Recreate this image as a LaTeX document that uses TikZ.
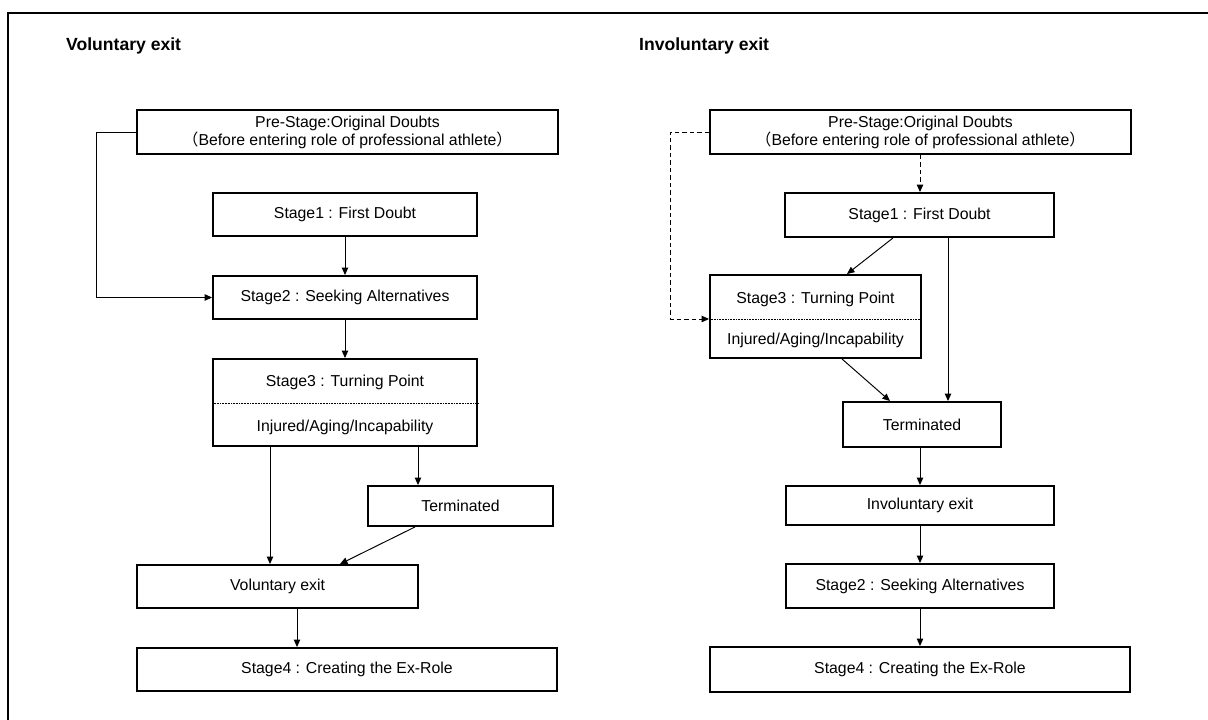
\documentclass[tikz,border=0pt]{standalone}
\usepackage{fontspec}
\setmainfont{Liberation Sans}
\newfontfamily\cjk{Noto Sans CJK JP}
\usetikzlibrary{arrows.meta}

\begin{document}
\begin{tikzpicture}[x=0.02cm,y=-0.02cm,
    font=\fontsize{9}{10.2}\selectfont,
    box/.style={draw=black,line width=1.1pt,inner sep=0pt,align=center},
    conn/.style={line width=0.55pt,-{Triangle[length=1.5mm,width=1.3mm]}},
    dconn/.style={conn,dash pattern=on 0.9mm off 0.6mm},
    divider/.style={line width=0.4pt,dash pattern=on 0.4pt off 0.5pt},
    title/.style={anchor=west,font=\fontsize{10}{12}\selectfont\bfseries}]

    \clip (0,0) rectangle (1208,720);
    \draw[line width=1.5pt] (8,13) rectangle (1240,750);

    % voluntary exit
    \node[title] (titleL) at (60,46) {Voluntary exit};
    \node[box,minimum width=8.42cm,minimum height=0.88cm] (pre1) at (347.5,132)
        {Pre-Stage:Original Doubts\\{\cjk （}Before entering role of professional athlete{\cjk ）}};
    \node[box,minimum width=5.28cm,minimum height=0.86cm] (s1L) at (345,214.5) {Stage1 : First Doubt};
    \node[box,minimum width=5.28cm,minimum height=0.86cm] (s2L) at (345,297.5) {Stage2 : Seeking Alternatives};
    \node[box,minimum width=5.28cm,minimum height=1.74cm] (s3L) at (345,402.5) {};
    \node (s3La) at (345,382) {Stage3 : Turning Point};
    \node (s3Lb) at (345,427) {Injured/Aging/Incapability};
    \draw[divider] (s3L.west |- 0,403) -- (s3L.east |- 0,403);
    \node[box,minimum width=3.7cm,minimum height=0.8cm] (termL) at (460.5,506) {Terminated};
    \node[box,minimum width=5.62cm,minimum height=0.86cm] (volL) at (277.5,586.5) {Voluntary exit};
    \node[box,minimum width=8.4cm,minimum height=0.86cm] (s4L) at (347,669.5) {Stage4 : Creating the Ex-Role};

    \draw[conn] (pre1.west) -- ++(-40,0) |- (s2L.west);
    \draw[conn] (s1L) -- (s2L);
    \draw[conn] (s2L) -- (s3L);
    \draw[conn] (s3L.south -| 270,0) -- (volL.north -| 270,0);
    \draw[conn] (s3L.south -| 418,0) -- (termL.north -| 418,0);
    \draw[conn] (termL.south -| 415,0) -- (volL.north -| 340,0);
    \draw[conn] (volL.south -| 297,0) -- (s4L.north -| 297,0);

    % involuntary exit
    \node[title] (titleR) at (633,46) {Involuntary exit};
    \node[box,minimum width=8.42cm,minimum height=0.88cm] (pre2) at (920.5,132)
        {Pre-Stage:Original Doubts\\{\cjk （}Before entering role of professional athlete{\cjk ）}};
    \node[box,minimum width=5.38cm,minimum height=0.88cm] (s1R) at (919.5,215) {Stage1 : First Doubt};
    \node[box,minimum width=4.22cm,minimum height=1.66cm] (s3R) at (815.5,316.5) {};
    \node (s3Ra) at (815.5,299) {Stage3 : Turning Point};
    \node (s3Rb) at (815.5,340) {Injured/Aging/Incapability};
    \draw[divider] (s3R.west |- 0,319) -- (s3R.east |- 0,319);
    \node[box,minimum width=3.16cm,minimum height=0.9cm] (termR) at (922,424.5) {Terminated};
    \node[box,minimum width=5.36cm,minimum height=0.78cm] (invR) at (920,505.5) {Involuntary exit};
    \node[box,minimum width=5.36cm,minimum height=0.88cm] (s2R) at (920,586) {Stage2 : Seeking Alternatives};
    \node[box,minimum width=8.4cm,minimum height=0.9cm] (s4R) at (920,669.5) {Stage4 : Creating the Ex-Role};

    \draw[dconn] (pre2.south -| 920,0) -- (s1R.north -| 920,0);
    \draw[dconn] (pre2.west) -- ++(-39,0) |- (s3R.west |- 0,319);
    \draw[conn] (s1R.south -| 893,0) -- (s3R.north -| 847,0);
    \draw[conn] (s1R.south -| 948,0) -- (termR.north -| 948,0);
    \draw[conn] (s3R.south -| 842,0) -- (termR.north -| 890,0);
    \draw[conn] (termR.south -| invR.north) -- (invR.north);
    \draw[conn] (invR) -- (s2R);
    \draw[conn] (s2R) -- (s4R);

\end{tikzpicture}
\end{document}
